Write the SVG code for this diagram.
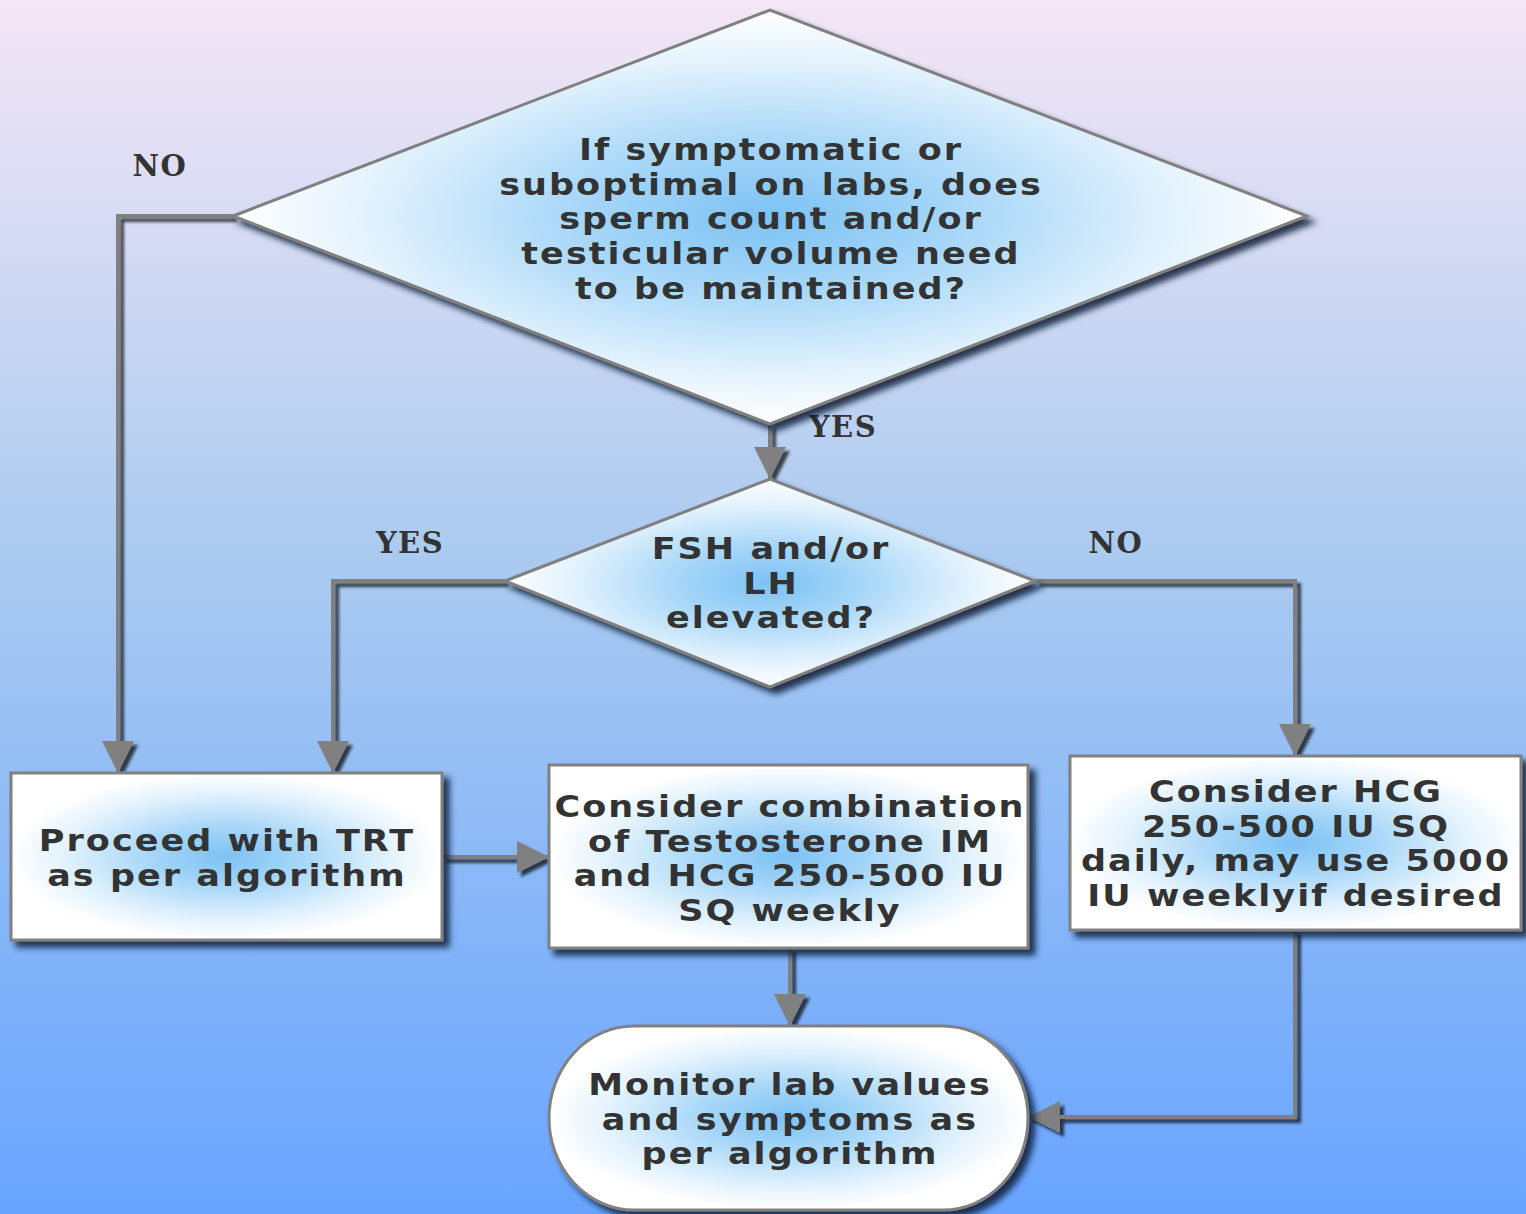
<svg xmlns="http://www.w3.org/2000/svg" width="1526" height="1214" viewBox="0 0 1526 1214">
<defs>
<linearGradient id="bg" x1="0" y1="0" x2="0" y2="1">
<stop offset="0" stop-color="#f4e6f6"/>
<stop offset="0.45" stop-color="#abcbf0"/>
<stop offset="1" stop-color="#68a4ff"/>
</linearGradient>
<radialGradient id="ng" cx="0.5" cy="0.5" r="0.5">
<stop offset="0" stop-color="#7cc2f4"/>
<stop offset="0.35" stop-color="#a6d6f8"/>
<stop offset="0.75" stop-color="#e2f2fd"/>
<stop offset="1" stop-color="#ffffff"/>
</radialGradient>
<filter id="sh" x="-10%" y="-10%" width="125%" height="130%">
<feGaussianBlur in="SourceAlpha" stdDeviation="3"/>
<feOffset dx="6" dy="6" result="b"/>
<feFlood flood-color="#0a1a33" flood-opacity="0.85"/>
<feComposite in2="b" operator="in" result="s"/>
<feMerge><feMergeNode in="s"/><feMergeNode in="SourceGraphic"/></feMerge>
</filter>
<filter id="ash" x="-50%" y="-50%" width="200%" height="200%">
<feGaussianBlur in="SourceAlpha" stdDeviation="1.5"/>
<feOffset dx="4" dy="4" result="b"/>
<feFlood flood-color="#000" flood-opacity="0.7"/>
<feComposite in2="b" operator="in" result="s"/>
<feMerge><feMergeNode in="s"/><feMergeNode in="SourceGraphic"/></feMerge>
</filter>
<marker id="ah" viewBox="0 0 10 10" refX="10" refY="5" markerWidth="8" markerHeight="8" orient="auto" markerUnits="strokeWidth">
<path d="M0,0 L10,5 L0,10 z" fill="#808080"/>
</marker>
</defs>
<style>
.node{fill:url(#ng);stroke:#808080;stroke-width:3;filter:url(#sh)}
.t{font-family:"DejaVu Sans",sans-serif;font-weight:bold;font-size:31px;letter-spacing:1.8px;fill:#333;text-anchor:middle}
.lbl{font-family:"DejaVu Serif","Liberation Serif",serif;font-weight:bold;font-size:29px;letter-spacing:1.5px;fill:#333;text-anchor:middle}
.c{fill:none;stroke:#808080;stroke-width:4;marker-end:url(#ah)}
</style>
<rect width="1526" height="1214" fill="url(#bg)"/>

<g id="connectors" filter="url(#ash)">
<path class="c" d="M233,216 H118 V773"/>
<path class="c" d="M770,424 V479"/>
<path class="c" d="M505,581 H333 V773"/>
<path class="c" d="M1035,581 H1295 V756"/>
<path class="c" d="M442,857 H549"/>
<path class="c" d="M790,948 V1026"/>
<path class="c" d="M1295,930 V1117 H1028"/>
</g>

<g id="labels">
<text class="lbl" x="160" y="176">NO</text>
<text class="lbl" x="843" y="437">YES</text>
<text class="lbl" x="410" y="553">YES</text>
<text class="lbl" x="1116" y="553">NO</text>
</g>

<g id="d1">
<polygon class="node" points="233,216 770,10 1307,216 770,424"/>
<g transform="translate(771,0) scale(1.13,1)">
<text class="t" x="0" y="160">If symptomatic or</text>
<text class="t" x="0" y="195">suboptimal on labs, does</text>
<text class="t" x="0" y="229">sperm count and/or</text>
<text class="t" x="0" y="264">testicular volume need</text>
<text class="t" x="0" y="299">to be maintained?</text>
</g>
</g>

<g id="d2">
<polygon class="node" points="505,581 770,479 1035,581 770,687"/>
<g transform="translate(771,0) scale(1.13,1)">
<text class="t" x="0" y="559">FSH and/or</text>
<text class="t" x="0" y="594">LH</text>
<text class="t" x="0" y="628">elevated?</text>
</g>
</g>

<g id="b1">
<rect class="node" x="11" y="773" width="431" height="167"/>
<g transform="translate(227,0) scale(1.13,1)">
<text class="t" x="0" y="851">Proceed with TRT</text>
<text class="t" x="0" y="886">as per algorithm</text>
</g>
</g>

<g id="b2">
<rect class="node" x="549" y="765" width="479" height="183"/>
<g transform="translate(790,0) scale(1.13,1)">
<text class="t" x="0" y="817">Consider combination</text>
<text class="t" x="0" y="852">of Testosterone IM</text>
<text class="t" x="0" y="886">and HCG 250-500 IU</text>
<text class="t" x="0" y="921">SQ weekly</text>
</g>
</g>

<g id="b3">
<rect class="node" x="1070" y="756" width="451" height="174"/>
<g transform="translate(1296,0) scale(1.13,1)">
<text class="t" x="0" y="802">Consider HCG</text>
<text class="t" x="0" y="837">250-500 IU SQ</text>
<text class="t" x="0" y="871">daily, may use 5000</text>
<text class="t" x="0" y="906">IU weeklyif desired</text>
</g>
</g>

<g id="term">
<rect class="node" x="549" y="1026" width="479" height="184" rx="85" ry="92"/>
<g transform="translate(790,0) scale(1.13,1)">
<text class="t" x="0" y="1095">Monitor lab values</text>
<text class="t" x="0" y="1130">and symptoms as</text>
<text class="t" x="0" y="1164">per algorithm</text>
</g>
</g>
</svg>
